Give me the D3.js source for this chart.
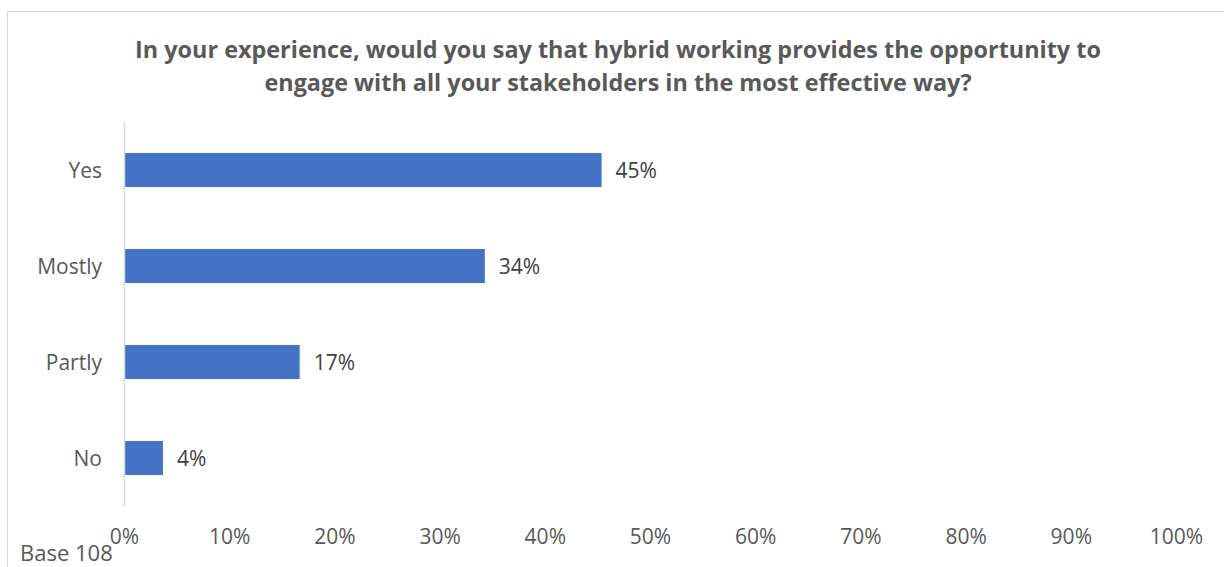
<!DOCTYPE html>
<html>
<head>
<meta charset="utf-8">
<script src="https://cdn.jsdelivr.net/npm/d3@7"></script>
<style>
  body { margin: 0; background: #fff; }
  text { font-family: "Open Sans", "Noto Sans", sans-serif; }
</style>
</head>
<body>
<div class="chart"></div>
<script>
(function chart() {

  'use strict';

  var categories = ['Yes', 'Mostly', 'Partly', 'No'];
  var values = [45.4, 34.3, 16.7, 3.7];
  var labels = ['45%', '34%', '17%', '4%'];
  var ticks = [0, 10, 20, 30, 40, 50, 60, 70, 80, 90, 100];

  var titleLines = [
    'In your experience, would you say that hybrid working provides the opportunity to',
    'engage with all your stakeholders in the most effective way?'
  ];

  var width = 1224;
  var height = 567;

  var svg = d3.select('.chart').append('svg')
    .attr('width', width)
    .attr('height', height);

  // Chart area border (only top and left are in view)
  svg.append('rect')
    .attr('x', 7.5)
    .attr('y', 11.5)
    .attr('width', 1240)
    .attr('height', 620)
    .attr('fill', 'none')
    .attr('stroke', '#d9d9d9');

  svg.selectAll('.title')
    .data(titleLines)
    .enter()
  .append('text')
    .attr('class', 'title')
    .attr('x', 618)
    .attr('y', function (d, i) { return 58 + i * 33; })
    .attr('text-anchor', 'middle')
    .attr('font-size', 23.4)
    .attr('font-weight', 'bold')
    .attr('fill', '#595959')
    .text(function (d) { return d; });

  var x = d3.scaleLinear()
    .domain([0, 100])
    .range([124, 1176]);

  var y = d3.scaleBand()
    .domain(categories)
    .range([122, 506])
    .paddingInner(0.645)
    .paddingOuter(0.3225);

  // Bars
  svg.selectAll('.bar')
    .data(values)
    .enter()
  .append('rect')
    .attr('class', 'bar')
    .attr('x', x(0))
    .attr('y', function (d, i) { return y(categories[i]); })
    .attr('width', function (d) { return x(d) - x(0); })
    .attr('height', y.bandwidth())
    .attr('fill', '#4472c4');

  // Data labels
  svg.selectAll('.label')
    .data(values)
    .enter()
  .append('text')
    .attr('class', 'label')
    .attr('x', function (d) { return x(d) + 14; })
    .attr('y', function (d, i) { return y(categories[i]) + y.bandwidth() / 2; })
    .attr('dy', '0.36em')
    .attr('font-size', 21)
    .attr('fill', '#404040')
    .text(function (d, i) { return labels[i]; });

  // Category axis
  var yAxis = svg.append('g')
    .attr('transform', 'translate(' + x(0) + ',0)')
    .call(d3.axisLeft(y).tickSize(0).tickPadding(22));
  yAxis.select('.domain').attr('stroke', '#d9d9d9').attr('stroke-width', 1.5);
  yAxis.selectAll('text')
    .attr('font-size', 21)
    .attr('dy', '0.36em')
    .attr('fill', '#595959')
    .style('font-family', '"Open Sans", sans-serif');

  // Value axis (labels only)
  var xAxis = svg.append('g')
    .attr('transform', 'translate(0,526)')
    .call(d3.axisBottom(x).tickValues(ticks).tickSize(0).tickPadding(3)
      .tickFormat(function (d) { return d + '%'; }));
  xAxis.select('.domain').remove();
  xAxis.selectAll('text')
    .attr('font-size', 21)
    .attr('fill', '#595959')
    .style('font-family', '"Open Sans", sans-serif');

  svg.append('text')
    .attr('x', 20)
    .attr('y', 561)
    .attr('font-size', 22)
    .attr('fill', '#595959')
    .text('Base 108');
})();
</script>
</body>
</html>
